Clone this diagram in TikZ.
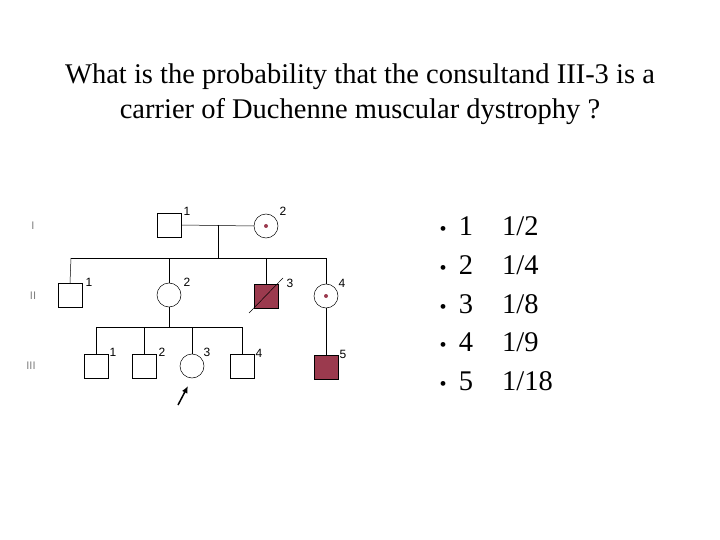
\documentclass[tikz,border=0pt]{standalone}
\usepackage{fontspec}
\usetikzlibrary{arrows.meta}
\setmainfont{Liberation Serif}
\newfontfamily\lab{Liberation Sans}
\definecolor{aff}{HTML}{9B3A4E}
\begin{document}
\begin{tikzpicture}[x=1pt,y=-1pt,
  sq/.style={draw,line width=0.5pt,minimum size=24pt,inner sep=0pt},
  ci/.style={draw,circle,line width=0.5pt,minimum size=24pt,inner sep=0pt},
  af/.style={sq,fill=aff},
  num/.style={font=\lab\fontsize{12}{12}\selectfont,inner sep=0pt},
  gen/.style={font=\lab\fontsize{11}{11}\selectfont,text=gray},
  ln/.style={line width=0.5pt},
  big/.style={font=\fontsize{28.5}{35}\selectfont,inner sep=0pt}]
\useasboundingbox (0,0) rectangle (720,540);
\node[big,align=center] (t) at (360,94) {What is the probability that the consultand III-3 is a\\carrier of Duchenne muscular dystrophy ?};
% generations
\node[gen] (g1) at (33,226) {I};
\node[gen] (g2) at (33,296) {II};
\node[gen] (g3) at (31,366) {III};
% gen I
\node[sq] (a1) at (169,225) {};
\node[ci] (a2) at (266,226) {};
\fill[aff] (a2.center) circle (2pt);
\node[num] at (187,211) {1};
\node[num] at (283,211) {2};
\draw[ln] (a1.east) -- (a2.west);
\coordinate (m1) at (218,225);
\coordinate (s1) at (218,258);
\draw[ln] (m1) -- (s1);
\coordinate (sl) at (71,258); \coordinate (sr) at (326,258);
\draw[ln] (sl) -- (sr);
% gen II
\node[sq] (b1) at (70,295) {};
\node[ci] (b2) at (169,295) {};
\node[af] (b3) at (266,296) {};
\node[ci] (b4) at (326,296) {};
\fill[aff] (b4.center) circle (2pt);
\draw[ln] (249,313) -- (283,278);
\node[num] at (89,282) {1};
\node[num] at (187,282) {2};
\node[num] at (290,283) {3};
\node[num] at (342,283) {4};
\draw[ln] (71,258) -- (b1.north);
\draw[ln] (169,258) -- (b2.north);
\draw[ln] (266,258) -- (b3.north);
\draw[ln] (326,258) -- (b4.north);
% gen III
\coordinate (s2) at (169,327);
\draw[ln] (b2.south) -- (s2);
\draw[ln] (96,327) -- (242,327);
\node[sq] (c1) at (96,366) {};
\node[sq] (c2) at (144,366) {};
\node[ci] (c3) at (192,366) {};
\node[sq] (c4) at (242,366) {};
\node[af] (c5) at (326,367) {};
\node[num] at (113,352) {1};
\node[num] at (162,352) {2};
\node[num] at (207,352) {3};
\node[num] at (259,353) {4};
\node[num] at (343,354) {5};
\draw[ln] (96,327) -- (c1.north);
\draw[ln] (144,327) -- (c2.north);
\draw[ln] (192,327) -- (c3.north);
\draw[ln] (242,327) -- (c4.north);
\draw[ln] (b4.south) -- (c5.north);
\coordinate (ar) at (178,405);
\draw[line width=1.5pt,-{Latex[length=7pt,width=6pt]}] (ar) -- (188,386);
% options
\foreach \i/\n/\f in {0/1/1\slash2,1/2/1\slash4,2/3/1\slash8,3/4/1\slash9,4/5/1\slash18}{
  \node[big,anchor=base,font=\fontsize{20}{20}\selectfont] at (443,236+38.5*\i) {•};
  \node[big,anchor=base] at (466,236+38.5*\i) {\n};
  \node[big,anchor=base west] at (502,236+38.5*\i) {\f};
}
\end{tikzpicture}
\end{document}
